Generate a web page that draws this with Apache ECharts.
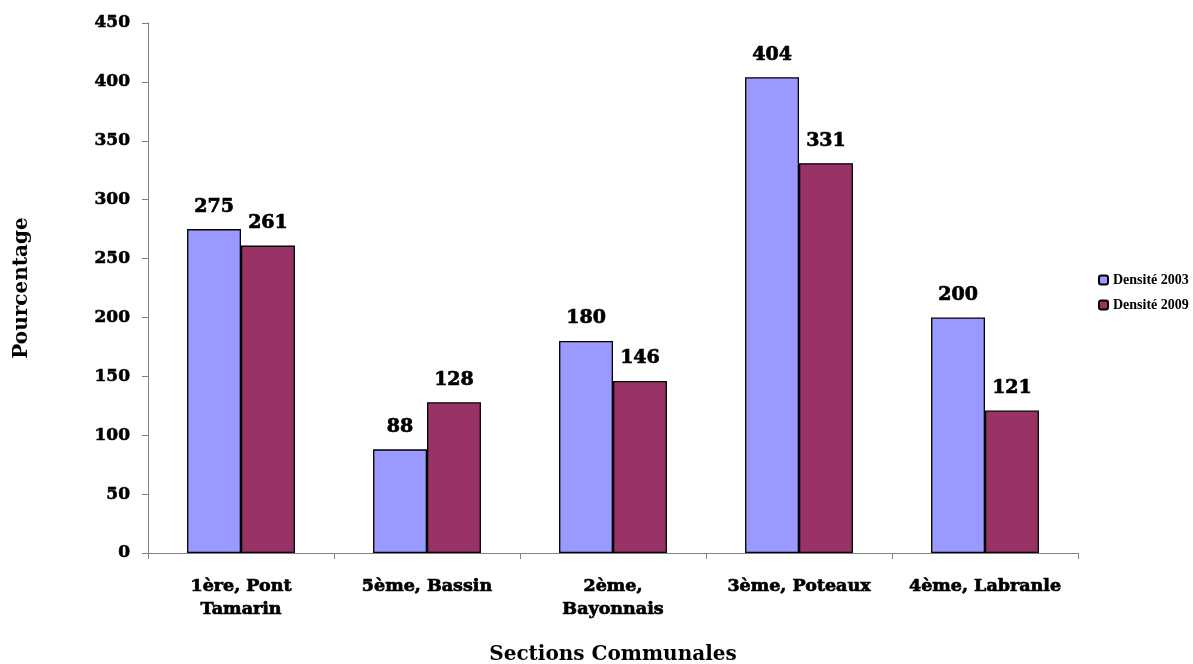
<!DOCTYPE html>
<html><head><meta charset="utf-8">
<script src="https://cdn.jsdelivr.net/npm/echarts@6/dist/echarts.min.js"></script>
<style>html,body{margin:0;padding:0;background:#fff}#c{width:1193px;height:664px}</style>
</head><body><div id="c"></div>
<script>
const categories = ['1ère, Pont\nTamarin', '5ème, Bassin', '2ème,\nBayonnais', '3ème, Poteaux', '4ème, Labranle'];
const densite2003 = [275, 88, 180, 404, 200];
const densite2009 = [261, 128, 146, 331, 121];
const yTicks = { min: 0, max: 450, interval: 50 };

const heavy = 'DejaVu Serif';
const chart = echarts.init(document.getElementById('c'));
const labelStyle = { show: true, position: 'top', distance: 13, color: '#000', fontFamily: heavy, fontWeight: 'bold', fontSize: 19, textBorderColor: '#000', textBorderWidth: 0.7 };
chart.setOption({
  animation: false,
  grid: { left: 148, right: 115, top: 23, bottom: 111, containLabel: false, outerBoundsMode: 'none' },
  legend: {
    orient: 'vertical', left: 1093, top: 268, itemWidth: 9, itemHeight: 9, itemGap: 11,
    textStyle: { fontFamily: 'Liberation Serif', fontWeight: 'bold', fontSize: 14, color: '#000' },
    data: ['Densité 2003', 'Densité 2009']
  },
  xAxis: {
    type: 'category', data: categories,
    name: 'Sections Communales', nameLocation: 'middle', nameGap: 92,
    nameTextStyle: { fontFamily: 'DejaVu Serif', fontWeight: 'bold', fontSize: 20, color: '#000' },
    axisLine: { lineStyle: { color: '#808080', width: 1 } },
    axisTick: { show: true, length: 6, inside: false, lineStyle: { color: '#808080' } },
    axisLabel: { interval: 0, hideOverlap: false, color: '#000', fontFamily: heavy, fontWeight: 'bold', fontSize: 17.5, margin: 22, lineHeight: 23, textBorderColor: '#000', textBorderWidth: 0.7 }
  },
  yAxis: {
    type: 'value', min: yTicks.min, max: yTicks.max, interval: yTicks.interval,
    name: 'Pourcentage', nameLocation: 'middle', nameGap: 116, nameRotate: 90,
    nameTextStyle: { fontFamily: 'DejaVu Serif', fontWeight: 'bold', fontSize: 20, color: '#000' },
    axisLine: { show: true, lineStyle: { color: '#808080', width: 1 } },
    axisTick: { show: true, length: 6, lineStyle: { color: '#808080' } },
    splitLine: { show: false },
    axisLabel: { color: '#000', fontFamily: heavy, fontWeight: 'bold', fontSize: 17, margin: 18, textBorderColor: '#000', textBorderWidth: 0.6 }
  },
  series: [
    { name: 'Densité 2003', type: 'bar', data: densite2003, barGap: '0%', barCategoryGap: '42%',
      itemStyle: { color: '#9999FF', borderColor: '#000', borderWidth: 1.3 }, label: labelStyle },
    { name: 'Densité 2009', type: 'bar', data: densite2009,
      itemStyle: { color: '#993366', borderColor: '#000', borderWidth: 1.3 }, label: labelStyle }
  ]
});
</script></body></html>
